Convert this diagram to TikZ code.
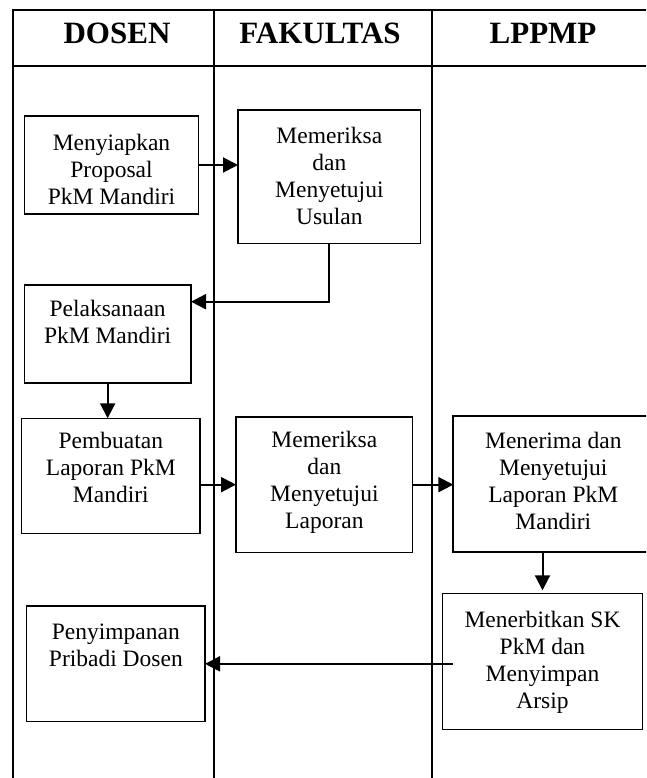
\documentclass[tikz,border=0pt]{standalone}
\usepackage{fontspec}
\setmainfont{Liberation Serif}
\usetikzlibrary{arrows.meta}

% body and header type
\newcommand\bodyfont{\fontsize{23.5}{27}\selectfont}
\newcommand\headfont{\fontsize{31}{36}\selectfont\bfseries}
% fixed-size cell: width, height, first-baseline offset, lines
\newcommand\boxlines[4]{\parbox[c][#2][t]{#1}{\centering\vspace*{\dimexpr#3-18.9pt\relax}\strut#4}}

\tikzset{
  lane/.style={line width=2pt, line cap=rect},
  flowbox/.style={draw, line width=1.2pt, inner sep=0pt, outer sep=0pt,
                  anchor=north west, font=\bodyfont},
  thickbox/.style={flowbox, line width=2.3pt},
  flowarrow/.style={line width=2pt, -{Triangle[length=15pt,width=15pt]}},
  header/.style={anchor=base, font=\headfont},
}

\begin{document}
\begin{tikzpicture}[x=1pt, y=-1pt]
  \useasboundingbox (0,0) rectangle (646,778);
  \clip (0,0) rectangle (646,778);

  % swimlane frame
  \draw[lane] (12.7,800) -- (12.7,10) -- (670,10);
  \draw[lane] (12.7,66) -- (670,66);
  \draw[lane] (214.3,10) -- (214.3,800);
  \draw[lane] (432,10) -- (432,800);

  % lane titles
  \node[header] (hdos) at (117,44) {DOSEN};
  \node[header] (hfak) at (320,44) {FAKULTAS};
  \node[header] (hlpp) at (543,44) {LPPMP};

  % process steps
  \node[flowbox] (prop) at (24.3,116)
    {\boxlines{174.4pt}{98pt}{34pt}{Menyiapkan\\Proposal\\PkM Mandiri}};
  \node[flowbox] (cek1) at (238,110)
    {\boxlines{182.7pt}{133.3pt}{34pt}{Memeriksa\\dan\\Menyetujui\\Usulan}};
  \node[flowbox] (laks) at (24.3,285)
    {\boxlines{166.7pt}{98pt}{31pt}{Pelaksanaan\\PkM Mandiri}};
  \node[flowbox] (buat) at (21.7,418.3)
    {\boxlines{178.3pt}{115.4pt}{30pt}{Pembuatan\\Laporan PkM\\Mandiri}};
  \node[flowbox] (cek2) at (236,417)
    {\boxlines{176.7pt}{135.3pt}{30.7pt}{Memeriksa\\dan\\Menyetujui\\Laporan}};
  \node[thickbox] (terima) at (453.3,416)
    {\boxlines{200pt}{135.7pt}{32.3pt}{Menerima dan\\Menyetujui\\Laporan PkM\\Mandiri}};
  \node[flowbox] (terbit) at (442.7,593.3)
    {\boxlines{199.6pt}{136pt}{34pt}{Menerbitkan SK\\PkM dan\\Menyimpan\\Arsip}};
  \node[flowbox] (simpan) at (26.7,606)
    {\boxlines{178.3pt}{115.7pt}{33pt}{Penyimpanan\\Pribadi Dosen}};

  % flow connectors
  \draw[flowarrow] (prop.east) -- (prop.east -| cek1.west);
  \draw[flowarrow] (cek1.south) |- ([yshift=-16.7pt]laks.north east);
  \draw[flowarrow] (laks.south) -- (laks.south |- buat.north);
  \draw[flowarrow] (buat.east |- cek2.west) -- (cek2.west);
  \draw[flowarrow] (cek2.east) -- (cek2.east -| terima.west);
  \draw[flowarrow, shorten >=3pt] (terbit.north |- terima.south) -- (terbit.north);
  \draw[flowarrow] ([xshift=10pt]terbit.west |- simpan.east) -- (simpan.east);
\end{tikzpicture}
\end{document}
